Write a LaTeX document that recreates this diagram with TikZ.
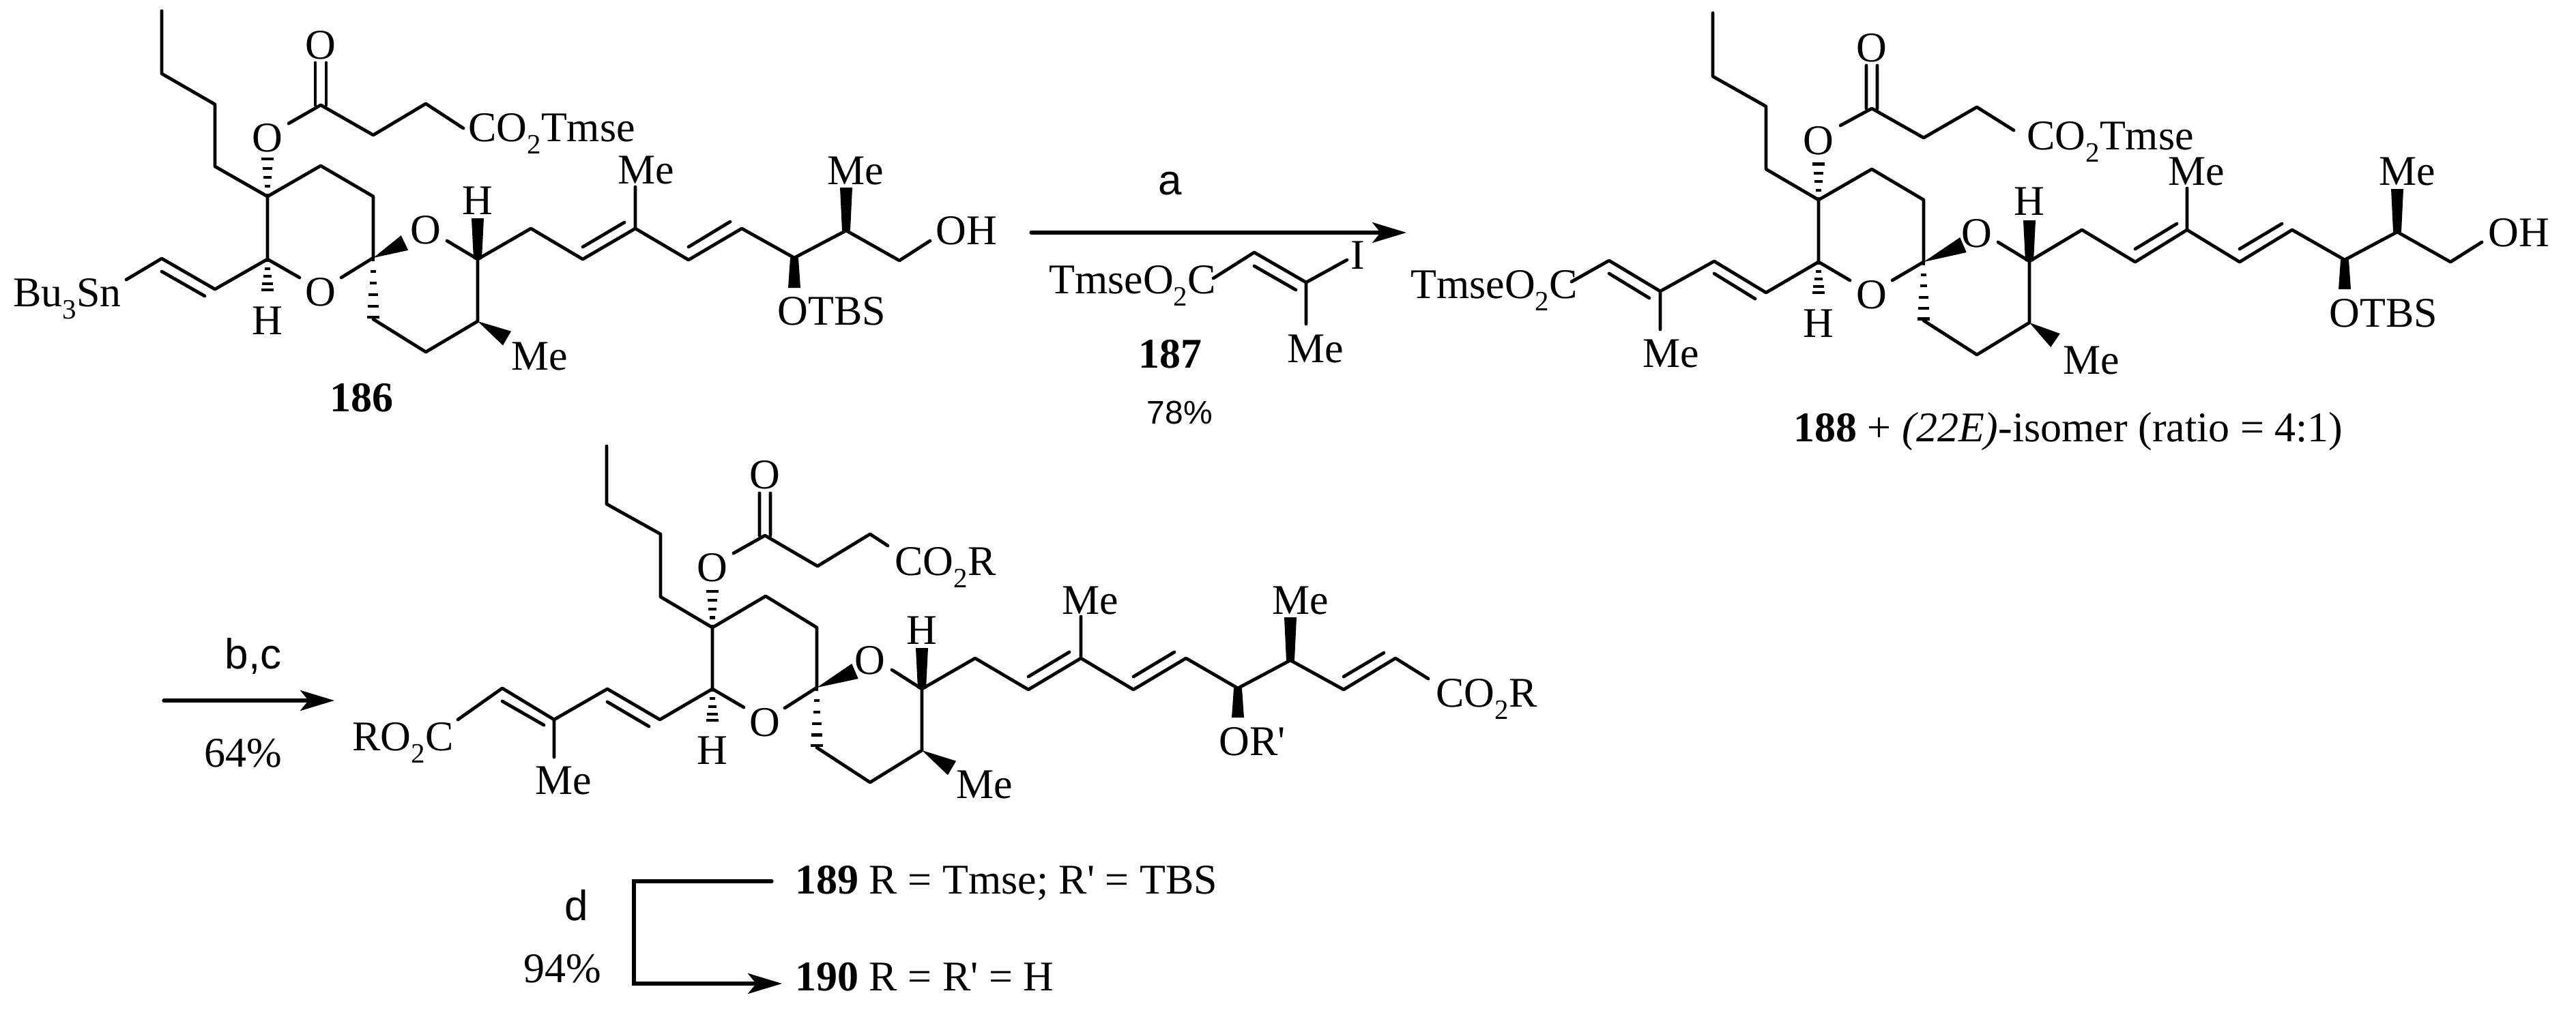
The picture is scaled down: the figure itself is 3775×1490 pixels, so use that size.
\documentclass[tikz,border=0pt]{standalone}
\usepackage{fontspec}
\setmainfont{Liberation Serif}
\setsansfont{Liberation Sans}
\usetikzlibrary{calc,arrows.meta}
\newcommand{\tsb}[1]{\raisebox{-9pt}{\fontsize{20.5}{20}\selectfont #1}}
\newcommand{\wedgeb}[3][6pt]{\fill (#2) -- ($(#3)!#1!90:(#2)$) -- ($(#3)!#1!-90:(#2)$) -- cycle;}
\newcommand{\barw}[2]{\fill ($(#1)!3pt!90:(#2)$) -- ($(#2)!4.5pt!-90:(#1)$) -- ($(#2)!4.5pt!90:(#1)$) -- ($(#1)!3pt!-90:(#2)$) -- cycle;}
\newcommand{\hashb}[3]{\foreach \t in {#3}{%
  \coordinate (hh) at ($(#1)!\t!(#2)$);
  \pgfmathsetlengthmacro\hw{(1+3.8*\t)*1pt}
  \draw[line width=2.1pt,line cap=butt] ($(hh)!\hw!90:(#2)$) -- ($(hh)!\hw!-90:(#2)$);}}
\tikzset{
  bond/.style={line width=2.4pt,line cap=round,line join=round},
  rxn/.style={line width=2.6pt,line cap=round,line join=miter,-{Stealth[length=25pt,width=15pt,inset=6pt]}},
  lab/.style={inner sep=0pt,font=\fontsize{31}{36}\selectfont},
  labw/.style={lab,anchor=base west},
  cmp/.style={lab,font=\fontsize{31}{36}\selectfont\bfseries},
  reag/.style={inner sep=0pt,font=\fontsize{31}{36}\selectfont\sffamily},
}
\begin{document}
\begin{tikzpicture}[x=0.5pt,y=-0.5pt]
\path[fill=white,use as bounding box] (0,0) rectangle (3775,1490);
% ---------- 186 ----------
\foreach \n/\p in {a1/{237,16},a2/{237,108},a3/{315,153},a4/{315,244},a5/{392,288},ae1/{423,181},ae2/{470,154},ae3/{547,198},ae4/{624,152},ae5/{679,188},aol/{462,154},aor/{478,154},aotl/{462,92},aotr/{478,92},r1/{470,243},r2/{547,288},sp/{547,378},c5/{392,380},o1e/{439,407},o2e/{500,407},v1/{315,424},v2/{237,379},v3/{185,410},v2i/{237,398},v1i/{300,434},hd/{392,426},ow/{593,356},oh/{392,228},d1/{547,468},d2/{624,516},d3/{700,471},d4/{700,380},o3e/{655,353},hw/{700,320},mw/{743,496},e1/{778,335},e2/{854,380},e3/{931,335},e2i/{854,362},e3i/{915,326},em/{931,274},e4/{1009,381},e5/{1087,335},e4i/{1009,362},e5i/{1070,325},e6/{1164,378},e7/{1240,338},e8/{1318,382},e9/{1363,353},e7m/{1240,275},e6o/{1164,422}}
  {\coordinate (\n) at (\p);}
\draw[bond] (a1)--(a2)--(a3)--(a4)--(a5)--(r1)--(r2)--(sp)--(o2e);
\draw[bond] (ae1)--(ae2)--(ae3)--(ae4)--(ae5);
\draw[bond] (aol)--(aotl) (aor)--(aotr);
\draw[bond] (a5)--(c5)--(o1e);
\draw[bond] (c5)--(v1)--(v2)--(v3) (v2i)--(v1i);
\draw[bond] (d1)--(d2)--(d3)--(d4)--(o3e);
\draw[bond] (d4)--(e1)--(e2)--(e3)--(e4)--(e5)--(e6)--(e7)--(e8)--(e9);
\draw[bond] (e2i)--(e3i) (e3)--(em) (e4i)--(e5i);
\hashb{a5}{oh}{0.03,0.25,0.47,0.69,0.92}
\hashb{c5}{hd}{0.05,0.3,0.55,0.78,0.97}
\hashb{sp}{d1}{0.03,0.22,0.41,0.6,0.79,0.97}
\wedgeb{sp}{ow}
\barw{d4}{hw}
\wedgeb{d3}{mw}
\barw{e7}{e7m}
\barw{e6}{e6o}
\node[lab] (A1) at (470,66) {O};
\node[lab] (A2) at (392,202) {O};
\node[labw] (A3) at (686,207) {CO\tsb{2}Tmse};
\node[labw] (A4) at (19,449) {Bu\tsb{3}Sn};
\node[lab] (A5) at (470,428) {O};
\node[lab] (A6) at (392,470) {H};
\node[lab] (A7) at (624,337) {O};
\node[lab] (A8) at (700,294) {H};
\node[lab] (A9) at (791,522) {Me};
\node[lab] (A10) at (947,249) {Me};
\node[lab] (A11) at (1254,250) {Me};
\node[lab] (A12) at (1416,338) {OH};
\node[lab] (A13) at (1219,456) {OTBS};
\node[cmp] (A14) at (530,583) {186};
% ---------- reagents a ----------
\coordinate (ra0) at (1511,341); \coordinate (ra1) at (2061,341);
\draw[rxn] (ra0)--(ra1);
\node[reag] (Ra) at (1715,269) {a};
\foreach \n/\p in {g1/{1778,408},g2/{1838,370},g3/{1914,414},g4/{1974,381},g5/{1914,475},g2i/{1838,390},g3i/{1899,425}}
  {\coordinate (\n) at (\p);}
\draw[bond] (g1)--(g2)--(g3)--(g4) (g3)--(g5) (g2i)--(g3i);
\node[labw] (R1) at (1537,430) {TmseO\tsb{2}C};
\node[lab] (R2) at (1990,374) {I};
\node[lab] (R3) at (1928,511) {Me};
\node[cmp] (R4) at (1715,519) {187};
\node[inner sep=0pt,font=\fontsize{24}{30}\selectfont\sffamily] (R5) at (1729,605) {78\%};
% ---------- 188 ----------
\foreach \n/\p in {b1/{2510,19},b2/{2510,112},b3/{2588,156},b4/{2588,248},b5/{2665,293},be1/{2697,184},be2/{2743,159},be3/{2819,202},be4/{2897,157},be5/{2951,191},bol/{2735,159},bor/{2751,159},botl/{2735,96},botr/{2751,96},s1/{2743,248},s2/{2819,293},sq/{2819,384},s5/{2665,384},bo1/{2711,411},bo2/{2773,411},w1/{2588,429},w2/{2512,383},w2i/{2512,401},w1i/{2572,438},w3/{2433,427},w4/{2358,382},w4i/{2358,401},w3i/{2417,437},w5/{2303,413},wm/{2433,483},bhd/{2665,430},boh/{2665,236},bow/{2877,359},bd1/{2819,470},bd2/{2897,520},bd3/{2974,473},bd4/{2974,383},bo3/{2928,355},bhw/{2974,323},bmw/{3012,499},f1/{3051,337},f2/{3129,384},f3/{3205,337},f2i/{3129,365},f3i/{3190,328},fm/{3205,276},f4/{3282,384},f5/{3359,337},f4i/{3282,365},f5i/{3344,328},f6/{3436,381},f7/{3513,340},f8/{3591,384},f9/{3637,355},f7m/{3513,277},f6o/{3436,424}}
  {\coordinate (\n) at (\p);}
\draw[bond] (b1)--(b2)--(b3)--(b4)--(b5)--(s1)--(s2)--(sq)--(bo2);
\draw[bond] (be1)--(be2)--(be3)--(be4)--(be5) (bol)--(botl) (bor)--(botr);
\draw[bond] (b5)--(s5)--(bo1);
\draw[bond] (s5)--(w1)--(w2)--(w3)--(w4)--(w5) (w2i)--(w1i) (w4i)--(w3i) (w3)--(wm);
\draw[bond] (bd1)--(bd2)--(bd3)--(bd4)--(bo3);
\draw[bond] (bd4)--(f1)--(f2)--(f3)--(f4)--(f5)--(f6)--(f7)--(f8)--(f9);
\draw[bond] (f2i)--(f3i) (f3)--(fm) (f4i)--(f5i);
\hashb{b5}{boh}{0.03,0.25,0.47,0.69,0.92}
\hashb{s5}{bhd}{0.05,0.3,0.55,0.78,0.97}
\hashb{sq}{bd1}{0.03,0.22,0.41,0.6,0.79,0.97}
\wedgeb{sq}{bow}
\barw{bd4}{bhw}
\wedgeb{bd3}{bmw}
\barw{f7}{f7m}
\barw{f6}{f6o}
\node[lab] (B1) at (2743,70) {O};
\node[lab] (B2) at (2665,206) {O};
\node[labw] (B3) at (2970,219) {CO\tsb{2}Tmse};
\node[labw] (B4) at (2067,437) {TmseO\tsb{2}C};
\node[lab] (B5) at (2743,432) {O};
\node[lab] (B6) at (2665,474) {H};
\node[lab] (B7) at (2449,518) {Me};
\node[lab] (B8) at (2897,342) {O};
\node[lab] (B9) at (2974,295) {H};
\node[lab] (B10) at (3065,528) {Me};
\node[lab] (B11) at (3219,251) {Me};
\node[lab] (B12) at (3528,251) {Me};
\node[lab] (B13) at (3691,341) {OH};
\node[lab] (B14) at (3493,459) {OTBS};
\node[labw] (B15) at (2628,647) {\textbf{188} + \textit{(22E)}-isomer (ratio = 4:1)};
% ---------- arrow b,c ----------
\coordinate (rb0) at (240,1027); \coordinate (rb1) at (490,1027);
\draw[rxn] (rb0)--(rb1);
\node[reag] (Rb) at (371,962) {b,c};
\node[lab] (Rc) at (356,1104) {64\%};
% ---------- 189 ----------
\foreach \n/\p in {k1/{889,654},k2/{889,739},k3/{968,783},k4/{968,875},k5/{1044,920},ke1/{1075,811},ke2/{1121,785},ke3/{1198,830},ke4/{1275,783},ke5/{1301,800},kol/{1113,785},kor/{1129,785},kotl/{1113,723},kotr/{1129,723},t1/{1122,874},t2/{1197,920},tq/{1197,1008},t5/{1044,1010},ko1/{1090,1037},ko2/{1150,1038},x1/{967,1055},x2/{890,1010},x2i/{890,1029},x1i/{951,1065},x3/{812,1055},x4/{736,1009},x4i/{736,1028},x3i/{797,1063},x5/{671,1055},xm/{812,1110},khd/{1044,1057},koh/{1044,862},kow/{1253,984},kd1/{1197,1096},kd2/{1275,1147},kd3/{1351,1100},kd4/{1351,1010},ko3/{1307,982},khw/{1351,950},kmw/{1395,1126},y1/{1429,965},y2/{1507,1011},y3/{1584,965},y2i/{1507,992},y3i/{1567,956},ym/{1584,904},y4/{1661,1011},y5/{1738,965},y4i/{1661,992},y5i/{1721,956},y6/{1814,1009},y7/{1891,968},y7m/{1891,905},y6o/{1814,1052},y8/{1969,1011},y9/{2045,965},y8i/{1969,992},y9i/{2028,957},y10/{2093,995}}
  {\coordinate (\n) at (\p);}
\draw[bond] (k1)--(k2)--(k3)--(k4)--(k5)--(t1)--(t2)--(tq)--(ko2);
\draw[bond] (ke1)--(ke2)--(ke3)--(ke4)--(ke5) (kol)--(kotl) (kor)--(kotr);
\draw[bond] (k5)--(t5)--(ko1);
\draw[bond] (t5)--(x1)--(x2)--(x3)--(x4)--(x5) (x2i)--(x1i) (x4i)--(x3i) (x3)--(xm);
\draw[bond] (kd1)--(kd2)--(kd3)--(kd4)--(ko3);
\draw[bond] (kd4)--(y1)--(y2)--(y3)--(y4)--(y5)--(y6)--(y7)--(y8)--(y9)--(y10);
\draw[bond] (y2i)--(y3i) (y3)--(ym) (y4i)--(y5i) (y8i)--(y9i);
\hashb{k5}{koh}{0.03,0.25,0.47,0.69,0.92}
\hashb{t5}{khd}{0.05,0.3,0.55,0.78,0.97}
\hashb{tq}{kd1}{0.03,0.22,0.41,0.6,0.79,0.97}
\wedgeb{tq}{kow}
\barw{kd4}{khw}
\wedgeb{kd3}{kmw}
\barw{y7}{y7m}
\barw{y6}{y6o}
\node[lab] (C1) at (1121,696) {O};
\node[lab] (C2) at (1044,832) {O};
\node[labw] (C3) at (1311,843) {CO\tsb{2}R};
\node[labw] (C4) at (516,1100) {RO\tsb{2}C};
\node[lab] (C5) at (1121,1059) {O};
\node[lab] (C6) at (1044,1100) {H};
\node[lab] (C7) at (826,1144) {Me};
\node[lab] (C8) at (1275,968) {O};
\node[lab] (C9) at (1351,924) {H};
\node[lab] (C10) at (1443,1150) {Me};
\node[lab] (C11) at (1598,880) {Me};
\node[lab] (C12) at (1906,880) {Me};
\node[lab] (C13) at (1835,1087) {OR\textquotesingle};
\node[labw] (C14) at (2104,1036) {CO\tsb{2}R};
% ---------- step d ----------
\node[reag] (Rd) at (845,1327) {d};
\node[lab] (Re) at (824,1420) {94\%};
\coordinate (h0) at (1131,1292); \coordinate (h1) at (929,1292);
\coordinate (h2) at (929,1442); \coordinate (h3) at (1146,1442);
\draw[rxn] (h0)--(h1)--(h2)--(h3);
\node[labw] (L1) at (1165,1310) {\textbf{189} R = Tmse; R\textquotesingle{} = TBS};
\node[labw] (L2) at (1165,1452) {\textbf{190} R = R\textquotesingle{} = H};
\end{tikzpicture}
\end{document}
